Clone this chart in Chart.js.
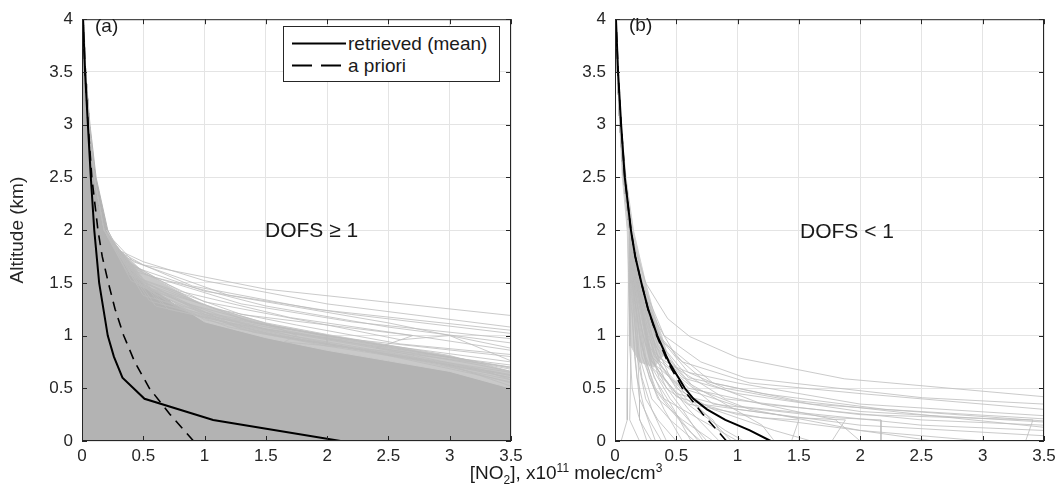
<!DOCTYPE html>
<html>
<head>
<meta charset="utf-8">
<script src="https://cdn.jsdelivr.net/npm/chart.js@4.4.0/dist/chart.umd.min.js"></script>
<style>
  body { margin: 0; background: #fff; }
  #wrap { position: relative; width: 1064px; height: 504px; font-family: "Liberation Sans", Arial, sans-serif; color: #1a1a1a; }
  canvas { position: absolute; top: 0; }
  .txt { position: absolute; white-space: nowrap; line-height: 1; }
  #legend { position: absolute; left: 283px; top: 26px; width: 215px; height: 54px; border: 1px solid #262626; background: #fff; }
</style>
</head>
<body>
<div id="wrap">
  <canvas id="chartA" width="532" height="504" style="left:0"></canvas>
  <canvas id="chartB" width="532" height="504" style="left:532px"></canvas>

  <div class="txt" style="left:95px;top:16px;font-size:19px">(a)</div>
  <div class="txt" style="left:629px;top:15px;font-size:19px">(b)</div>
  <div class="txt" style="left:265px;top:219px;font-size:21px">DOFS &ge; 1</div>
  <div class="txt" style="left:800px;top:220px;font-size:21px">DOFS &lt; 1</div>
  <div class="txt" style="left:566px;top:462px;font-size:19px;transform:translateX(-50%)">[NO<sub style="font-size:12px">2</sub>], x10<sup style="font-size:12px">11</sup> molec/cm<sup style="font-size:12px">3</sup></div>

  <div id="legend">
    <svg width="215" height="54" style="position:absolute;left:0;top:0">
      <line x1="8" y1="16.5" x2="62" y2="16.5" stroke="#000" stroke-width="2"/>
      <line x1="8" y1="38.5" x2="62" y2="38.5" stroke="#000" stroke-width="2" stroke-dasharray="20,9"/>
    </svg>
    <div class="txt" style="left:64px;top:7px;font-size:19px">retrieved (mean)</div>
    <div class="txt" style="left:64px;top:29px;font-size:19px">a priori</div>
  </div>
</div>

<script>
// mean profiles (x = NO2 in 1e11 molec/cm3, y = altitude km)
const altRetA = [0, 0.2, 0.4, 0.6, 0.8, 1.0, 1.5, 2.0, 2.5, 3.0, 3.5, 4.0];
const retA    = [2.11, 1.07, 0.51, 0.33, 0.26, 0.21, 0.14, 0.1, 0.072, 0.048, 0.025, 0.008];

const altApriori = [0, 0.25, 0.5, 0.75, 1.0, 1.25, 1.5, 1.75, 2.0, 2.5, 3.0, 3.5, 4.0];
const apriori    = [0.91, 0.72, 0.55, 0.43, 0.34, 0.27, 0.215, 0.165, 0.13, 0.08, 0.05, 0.025, 0.008];

const altRetB = [0, 0.1, 0.2, 0.3, 0.4, 0.5, 0.75, 1.0, 1.25, 1.5, 1.75, 2.0, 2.5, 3.0, 3.5, 4.0];
const retB    = [1.27, 1.1, 0.9, 0.75, 0.64, 0.57, 0.44, 0.345, 0.27, 0.215, 0.165, 0.13, 0.08, 0.05, 0.025, 0.008];

// dense cloud of individual profiles in panel (a), outline [x, alt]
const denseA = [[0, 0], [0, 4], [0.015, 4], [0.03, 3.5], [0.065, 3], [0.115, 2.5], [0.21, 2], [0.3, 1.8],
  [0.4, 1.64], [0.5, 1.52], [0.75, 1.3], [1.0, 1.15], [1.5, 1.0], [2.0, 0.88], [2.5, 0.78], [3.0, 0.68], [3.5, 0.52], [3.5, 0]];
// thinner fringe just above the dense cloud
const fringeA = [[0.2, 2], [0.3, 1.82], [0.5, 1.6], [1.0, 1.28], [1.5, 1.12], [2.0, 1.01], [2.5, 0.91], [3.0, 0.81], [3.5, 0.66],
  [3.5, 0.5], [3.0, 0.66], [2.5, 0.76], [2.0, 0.86], [1.5, 0.98], [1.0, 1.13], [0.5, 1.5], [0.3, 1.78]];

// individual profiles sticking out of the cloud, panel (a)
const topA = [[0.01, 4], [0.03, 3.5], [0.06, 3], [0.1, 2.5], [0.18, 2]];
const profilesA = [
  [[0.3, 1.8], [0.5, 1.67], [1.5, 1.44], [3.5, 1.19]],
  [[0.28, 1.82], [0.5, 1.7], [1.0, 1.52], [2.0, 1.3], [3.5, 1.08]],
  [[0.3, 1.75], [0.6, 1.55], [1.5, 1.28], [2.5, 1.08], [3.5, 0.93]],
  [[0.33, 1.72], [0.8, 1.42], [1.7, 1.17], [2.7, 1.0], [3.5, 0.86]],
  [[0.35, 1.68], [1.0, 1.32], [2.0, 1.1], [2.6, 0.96], [3.0, 1.0], [3.5, 0.76]],
  [[0.36, 1.62], [0.8, 1.32], [1.6, 1.07], [1.75, 1.0], [1.65, 0.94], [2.5, 0.85], [3.5, 0.7]],
  [[0.4, 1.52], [1.0, 1.22], [2.0, 0.99], [3.5, 0.8]],
  [[0.45, 1.48], [1.2, 1.16], [2.0, 1.0], [2.0, 0.92], [3.5, 0.65]],
  [[0.5, 1.38], [1.5, 1.06], [2.5, 0.86], [3.5, 0.62]],
  [[0.55, 1.33], [1.5, 1.02], [2.5, 0.82], [3.5, 0.58]],
  [[0.6, 1.28], [1.8, 0.96], [2.8, 0.76], [3.5, 0.6]],
  [[0.4, 1.62], [1.3, 1.3], [2.2, 1.13], [3.5, 0.97]],
  [[0.35, 1.68], [1.0, 1.42], [2.2, 1.2], [3.5, 1.02]],
  [[0.45, 1.55], [1.3, 1.2], [2.7, 1.0], [2.4, 0.88], [3.5, 0.72]],
  [[0.42, 1.7], [1.2, 1.38], [2.5, 1.12], [3.5, 0.88]],
  [[0.5, 1.5], [1.4, 1.12], [2.4, 0.92], [3.5, 0.75]],
  [[0.55, 1.45], [1.6, 1.08], [2.6, 0.88], [3.5, 0.68]],
  [[0.65, 1.3], [1.7, 1.0], [2.7, 0.8], [3.5, 0.55]],
  [[0.7, 1.25], [1.9, 0.95], [3.0, 0.72], [3.5, 0.52]],
  [[0.38, 1.58], [1.1, 1.25], [1.75, 1.1], [2.6, 0.92], [3.5, 0.82]],
  [[0.32, 1.76], [0.9, 1.47], [1.9, 1.25], [3.5, 1.05]],
  [[0.45, 1.5], [0.8, 1.25], [1.2, 1.08], [2.0, 0.9], [3.0, 0.72], [3.5, 0.6]],
  [[0.5, 1.48], [1.0, 1.15], [1.8, 0.95], [2.8, 0.77], [3.5, 0.63]],
  [[0.48, 1.52], [1.1, 1.17], [2.2, 0.93], [3.2, 0.73], [3.5, 0.66]],
  [[0.55, 1.42], [1.3, 1.06], [2.3, 0.86], [3.5, 0.56]],
  [[0.5, 1.46], [0.9, 1.2], [1.6, 1.0], [2.6, 0.8], [3.5, 0.62]],
  [[0.42, 1.56], [1.0, 1.2], [1.5, 1.06], [2.3, 0.93], [3.5, 0.7]],
  [[0.46, 1.5], [1.2, 1.12], [2.1, 0.95], [3.1, 0.78], [3.5, 0.69]],
  [[0.6, 1.35], [1.4, 1.03], [2.4, 0.84], [3.3, 0.66], [3.5, 0.58]]
];

// panel (b): densest core of the profile bundle, outline [x, alt]
const coreB = [[0.03, 3.2], [0.06, 2.5], [0.1, 2.0], [0.11, 1.5], [0.12, 1.1], [0.13, 0.9], [0.2, 0.75], [0.32, 0.7],
  [0.42, 0.85], [0.38, 1.0], [0.32, 1.2], [0.25, 1.5], [0.15, 2.0], [0.09, 2.5], [0.05, 3.0]];

const topB = [[0.005, 4], [0.02, 3.5], [0.04, 3], [0.07, 2.5], [0.12, 2]];
const profilesB = [
  [[0.25, 1.5], [0.43, 1.16], [0.61, 0.99], [1.0, 0.79], [1.87, 0.59], [3.5, 0.42]],
  [[0.22, 1.5], [0.4, 1.0], [0.7, 0.75], [1.06, 0.6], [2.51, 0.41], [3.5, 0.35]],
  [[0.2, 1.5], [0.35, 1.0], [0.6, 0.65], [1.0, 0.55], [2.0, 0.35], [3.5, 0.24]],
  [[0.2, 1.5], [0.35, 0.95], [0.6, 0.6], [1.2, 0.45], [2.2, 0.3], [3.5, 0.21]],
  [[0.19, 1.5], [0.33, 0.9], [0.55, 0.6], [1.0, 0.45], [2.0, 0.28], [3.5, 0.18]],
  [[0.19, 1.5], [0.32, 0.85], [0.6, 0.5], [1.2, 0.35], [2.5, 0.2], [3.5, 0.15]],
  [[0.18, 1.5], [0.3, 0.8], [0.55, 0.5], [1.0, 0.33], [2.5, 0.15], [3.5, 0.1]],
  [[0.18, 1.5], [0.3, 0.75], [0.5, 0.45], [1.0, 0.3], [2.0, 0.15], [3.5, 0.05]],
  [[0.18, 1.5], [0.28, 0.8], [0.5, 0.42], [1.0, 0.25], [2.0, 0.1], [3.0, 0.0]],
  [[0.17, 1.5], [0.3, 0.7], [0.6, 0.35], [1.2, 0.22], [1.5, 0.2], [1.44, 0.0]],
  [[0.17, 1.5], [0.3, 0.75], [0.7, 0.35], [1.5, 0.22], [1.88, 0.2], [1.77, 0.0]],
  [[0.18, 1.5], [0.32, 0.8], [0.8, 0.35], [1.8, 0.22], [2.17, 0.2], [2.17, 0.0]],
  [[0.19, 1.5], [0.35, 0.8], [0.9, 0.4], [2.0, 0.25], [3.41, 0.2], [3.35, 0.0]],
  [[0.16, 1.5], [0.25, 0.8], [0.4, 0.4], [0.7, 0.2], [1.0, 0.0]],
  [[0.15, 1.5], [0.22, 0.8], [0.35, 0.4], [0.55, 0.2], [0.8, 0.0]],
  [[0.15, 1.5], [0.2, 0.8], [0.3, 0.4], [0.45, 0.2], [0.65, 0.0]],
  [[0.14, 1.5], [0.18, 0.8], [0.25, 0.4], [0.35, 0.2], [0.5, 0.0]],
  [[0.13, 1.5], [0.16, 0.8], [0.2, 0.4], [0.28, 0.2], [0.38, 0.0]],
  [[0.12, 1.5], [0.13, 0.8], [0.12, 0.2], [0.2, 0.0]],
  [[0.11, 1.6], [0.1, 0.5], [0.1, 0.2], [0.05, 0.0]],
  [[0.17, 1.5], [0.28, 0.9], [0.5, 0.5], [0.8, 0.3], [1.3, 0.1], [1.6, 0.0]],
  [[0.19, 1.5], [0.35, 0.9], [0.65, 0.5], [1.1, 0.3], [2.0, 0.1], [2.6, 0.0]],
  [[0.2, 1.5], [0.38, 0.95], [0.8, 0.55], [1.5, 0.38], [2.5, 0.25], [3.5, 0.13]],
  [[0.16, 1.5], [0.26, 0.9], [0.42, 0.5], [0.65, 0.3], [0.9, 0.1], [1.05, 0.0]],
  [[0.14, 1.5], [0.22, 0.9], [0.32, 0.5], [0.45, 0.3], [0.6, 0.1], [0.7, 0.0]],
  [[0.2, 1.5], [0.33, 1.0], [0.5, 0.7], [0.9, 0.5], [1.6, 0.35], [3.5, 0.19]],
  [[0.21, 1.5], [0.36, 1.0], [0.55, 0.75], [1.1, 0.55], [2.0, 0.45], [3.5, 0.3]],
  [[0.13, 1.6], [0.18, 1.0], [0.2, 0.4], [0.2, 0.2], [0.3, 0.0]],
  [[0.14, 1.5], [0.2, 1.0], [0.28, 0.6], [0.4, 0.3], [0.55, 0.0]],
  [[0.15, 1.5], [0.23, 1.0], [0.32, 0.6], [0.48, 0.3], [0.62, 0.0]],
  [[0.16, 1.5], [0.25, 1.0], [0.36, 0.6], [0.55, 0.3], [0.72, 0.0]],
  [[0.17, 1.5], [0.27, 1.0], [0.4, 0.6], [0.6, 0.3], [0.85, 0.0]],
  [[0.18, 1.5], [0.3, 1.0], [0.45, 0.6], [0.7, 0.3], [0.95, 0.0]],
  [[0.13, 1.5], [0.17, 1.0], [0.22, 0.6], [0.3, 0.3], [0.42, 0.0]],
  [[0.12, 1.5], [0.15, 1.0], [0.18, 0.6], [0.24, 0.3], [0.33, 0.0]],
  [[0.14, 1.6], [0.21, 1.1], [0.3, 0.7], [0.45, 0.4], [0.6, 0.2], [0.75, 0.0]],
  [[0.16, 1.6], [0.26, 1.1], [0.38, 0.7], [0.58, 0.4], [0.8, 0.2], [0.9, 0.0]],
  [[0.2, 1.4], [0.3, 1.1], [0.42, 0.8], [0.6, 0.55], [0.9, 0.35], [1.2, 0.15], [1.3, 0.0]],
  [[0.22, 1.45], [0.35, 1.1], [0.5, 0.8], [0.75, 0.55], [1.2, 0.35], [1.8, 0.2], [2.0, 0.0]],
  [[0.13, 1.7], [0.19, 1.2], [0.24, 0.8], [0.33, 0.5], [0.5, 0.25], [0.68, 0.0]],
  [[0.12, 1.4], [0.12, 0.9], [0.14, 0.5], [0.19, 0.25], [0.26, 0.0]]
];

const xTicks = { min: 0, max: 3.5, step: 0.5 };
const yTicks = { min: 0, max: 4, step: 0.5 };

const grey = '#b3b3b3';
const greyLine = '#bdbdbd';
const tickFont = { family: 'Liberation Sans', size: 17 };

function pts(xs, alts) {
  return xs.map((v, i) => ({ x: v, y: alts[i] }));
}
function pairs(list) {
  return list.map(p => ({ x: p[0], y: p[1] }));
}

function meanSets(retX, retAlt) {
  return [
    { data: pts(retX, retAlt), borderColor: '#000', borderWidth: 2 },
    { data: pts(apriori, altApriori), borderColor: '#000', borderWidth: 1.6, borderDash: [10, 7] }
  ];
}

function greySets(top, profiles) {
  return profiles.map(p => ({ data: pairs(top.concat(p)), borderColor: greyLine, borderWidth: 0.8 }));
}

function shapeSet(outline, colour) {
  return { data: pairs(outline), borderColor: colour, borderWidth: 1, backgroundColor: colour, fill: 'shape' };
}

const boxPlugin = {
  id: 'boxTicks',
  afterDraw(chart) {
    const { ctx, chartArea: a, scales: { x, y } } = chart;
    ctx.save();
    ctx.strokeStyle = '#262626';
    ctx.lineWidth = 1;
    ctx.strokeRect(a.left + 0.5, a.top + 0.5, a.right - a.left - 1, a.bottom - a.top - 1);
    ctx.beginPath();
    x.ticks.forEach(t => {
      const px = Math.round(x.getPixelForValue(t.value)) + 0.5;
      ctx.moveTo(px, a.bottom); ctx.lineTo(px, a.bottom - 5);
      ctx.moveTo(px, a.top); ctx.lineTo(px, a.top + 5);
    });
    y.ticks.forEach(t => {
      const py = Math.round(y.getPixelForValue(t.value)) + 0.5;
      ctx.moveTo(a.left, py); ctx.lineTo(a.left + 5, py);
      ctx.moveTo(a.right, py); ctx.lineTo(a.right - 5, py);
    });
    ctx.stroke();
    ctx.restore();
  }
};

function makeChart(id, datasets, yTitle, yWidth, rightPad) {
  return new Chart(document.getElementById(id), {
    type: 'scatter',
    data: { datasets: datasets },
    options: {
      responsive: false,
      animation: false,
      events: [],
      layout: { padding: { top: 12, right: rightPad, left: 0, bottom: 0 } },
      elements: { point: { radius: 0 }, line: { tension: 0 } },
      datasets: { scatter: { showLine: true, pointRadius: 0, fill: false } },
      plugins: { legend: { display: false }, tooltip: { enabled: false } },
      scales: {
        x: {
          type: 'linear', min: xTicks.min, max: xTicks.max,
          ticks: { stepSize: xTicks.step, color: '#262626', font: tickFont, padding: 5, maxRotation: 0, callback: v => String(v) },
          grid: { color: '#e4e4e4', drawTicks: false },
          border: { display: false },
          afterFit: s => { s.height = 63; }
        },
        y: {
          type: 'linear', min: yTicks.min, max: yTicks.max,
          ticks: { stepSize: yTicks.step, color: '#262626', font: tickFont, padding: 9, callback: v => String(v) },
          grid: { color: '#e4e4e4', drawTicks: false },
          border: { display: false },
          title: { display: !!yTitle, text: yTitle, color: '#262626', font: { family: 'Liberation Sans', size: 19 }, padding: { top: 6, bottom: 0 } },
          afterFit: s => { s.width = yWidth; }
        }
      }
    },
    plugins: [boxPlugin]
  });
}

const setsA = meanSets(retA, altRetA)
  .concat(greySets(topA, profilesA))
  .concat([shapeSet(fringeA, '#c9c9c9'), shapeSet(denseA, grey)]);

const setsB = meanSets(retB, altRetB)
  .concat(greySets(topB, profilesB))
  .concat([shapeSet(coreB, '#d0d0d0')]);

makeChart('chartA', setsA, 'Altitude (km)', 82, 21);
makeChart('chartB', setsB, '', 83, 20);
</script>
</body>
</html>
